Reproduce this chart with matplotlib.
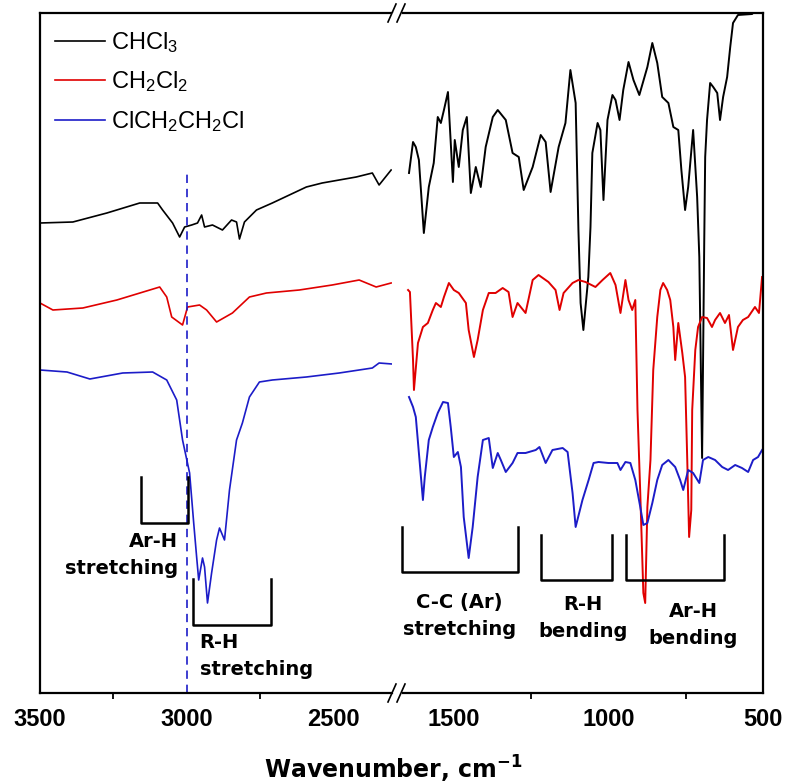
import numpy as np
import matplotlib
matplotlib.use("Agg")
import matplotlib.pyplot as plt
from matplotlib.lines import Line2D

plt.rcParams['mathtext.default'] = 'regular'

# FTIR spectra, arbitrary offset intensity
# --- high wavenumber window (3500-2300) ---
chcl3_wn_hi = [3500, 3388, 3272, 3160, 3099, 3082, 3048, 3024, 3007, 2983, 2963, 2949, 2939, 2912,
               2878, 2847, 2830, 2820, 2803, 2762, 2708, 2650, 2592, 2538, 2480, 2422, 2367, 2344, 2303]
chcl3_hi = [470, 471, 480, 490, 490, 483, 470, 456, 466, 468, 470, 478, 466, 468,
            463, 473, 471, 454, 471, 483, 490, 498, 506, 510, 513, 516, 520, 508, 523]

ch2cl2_wn_hi = [3500, 3456, 3354, 3238, 3092, 3068, 3051, 3014, 2997, 2956, 2932, 2898, 2844, 2786,
                2728, 2616, 2504, 2412, 2354, 2303]
ch2cl2_hi = [390, 383, 385, 393, 406, 396, 376, 368, 386, 388, 383, 371, 380, 396,
             400, 403, 408, 413, 406, 410]

dce_wn_hi = [3500, 3408, 3330, 3218, 3116, 3068, 3034, 3014, 2990, 2976, 2966, 2959, 2946, 2939,
             2929, 2915, 2898, 2888, 2871, 2854, 2830, 2810, 2786, 2752, 2708, 2592, 2480, 2367,
             2344, 2300]
dce_hi = [323, 321, 314, 320, 321, 313, 293, 253, 220, 170, 136, 113, 135, 126,
          90, 120, 153, 165, 153, 203, 253, 270, 296, 311, 313, 316, 320, 325, 330, 329]

# --- low wavenumber window (1700-500) ---
chcl3_wn_lo = [1645, 1632, 1623, 1613, 1597, 1581, 1565, 1552, 1542, 1532, 1519, 1503, 1497, 1484,
               1471, 1458, 1445, 1429, 1413, 1397, 1374, 1358, 1332, 1310, 1290, 1274, 1245, 1219,
               1203, 1187, 1161, 1139, 1123, 1106, 1097, 1090, 1081, 1065, 1058, 1052, 1035, 1026,
               1016, 1003, 987, 977, 964, 952, 935, 919, 900, 874, 858, 842, 826, 806, 790, 774,
               764, 752, 742, 726, 713, 706, 697, 690, 687, 681, 671, 661, 648, 639, 629, 616,
               606, 597, 581, 535, 516, 500]
chcl3_lo = [520, 551, 546, 533, 460, 506, 530, 576, 570, 583, 601, 511, 553, 526,
            563, 576, 500, 526, 506, 546, 576, 583, 573, 540, 536, 503, 526, 558,
            551, 501, 546, 570, 623, 590, 463, 390, 363, 416, 466, 540, 570, 563,
            493, 573, 598, 593, 573, 603, 631, 613, 598, 626, 650, 630, 596, 590, 566, 563,
            523, 483, 506, 563, 496, 436, 235, 453, 536, 573, 610, 606, 600, 573, 596, 616,
            646, 670, 678, 679, 688, 693]

ch2cl2_wn_lo = [1648, 1642, 1632, 1629, 1616, 1600, 1584, 1568, 1558, 1542, 1532, 1516, 1500, 1484,
                1461, 1452, 1435, 1423, 1406, 1387, 1365, 1342, 1323, 1310, 1294, 1268, 1245, 1226,
                1194, 1171, 1158, 1145, 1116, 1097, 1074, 1042, 1019, 994, 977, 961, 945, 935,
                923, 913, 906, 897, 887, 881, 874, 864, 855, 842, 832, 823, 810, 800, 790, 784,
                774, 761, 752, 745, 739, 732, 729, 719, 710, 697, 681, 665, 655, 639, 623, 610,
                597, 581, 565, 548, 526, 513, 503]
ch2cl2_lo = [403, 401, 333, 303, 350, 366, 370, 383, 390, 386, 396, 410, 403, 400,
             390, 363, 336, 353, 383, 400, 400, 405, 401, 376, 390, 380, 413, 418,
             411, 403, 383, 400, 410, 413, 411, 406, 413, 420, 408, 380, 413, 393,
             383, 393, 283, 200, 100, 90, 186, 233, 323, 376, 403, 410, 403, 393, 366, 333,
             370, 340, 316, 233, 156, 183, 283, 343, 366, 376, 375, 366, 373, 380, 370, 378,
             343, 366, 373, 376, 386, 380, 416]

dce_wn_lo = [1645, 1632, 1623, 1613, 1600, 1594, 1581, 1568, 1552, 1535, 1519, 1510, 1500, 1487,
             1477, 1468, 1452, 1439, 1423, 1406, 1387, 1374, 1358, 1348, 1332, 1310, 1294, 1268,
             1235, 1223, 1203, 1181, 1148, 1132, 1116, 1106, 1084, 1064, 1048, 1032, 1000, 971,
             961, 945, 929, 913, 897, 887, 874, 858, 842, 826, 806, 784, 768, 758, 742, 726,
             706, 694, 677, 655, 632, 613, 590, 568, 548, 532, 516, 503]
dce_lo = [296, 286, 276, 240, 193, 216, 253, 266, 280, 291, 290, 266, 236, 241,
          226, 176, 135, 166, 216, 253, 255, 225, 240, 233, 221, 230, 240, 240,
          243, 246, 230, 243, 245, 241, 200, 166, 193, 213, 230, 231, 230, 230,
          223, 231, 230, 213, 186, 168, 170, 190, 213, 228, 233, 226, 213, 203, 223, 220,
          210, 233, 236, 233, 226, 223, 228, 225, 221, 233, 236, 243]

series = [
    ('CHCl$_3$', 'black', chcl3_wn_hi, chcl3_hi, chcl3_wn_lo, chcl3_lo),
    ('CH$_2$Cl$_2$', '#e00000', ch2cl2_wn_hi, ch2cl2_hi, ch2cl2_wn_lo, ch2cl2_lo),
    ('ClCH$_2$CH$_2$Cl', '#1c1cc8', dce_wn_hi, dce_hi, dce_wn_lo, dce_lo),
]

# band assignments: label, wn start, wn end, bracket top, bracket bottom
bands_hi = [("Ar-H\nstretching", 3156, 2997, 216, 170),
            ("R-H\nstretching", 2980, 2711, 114, 68)]
bands_lo = [("C-C (Ar)\nstretching", 1668, 1294, 166, 121),
            ("R-H\nbending", 1219, 990, 158, 113),
            ("Ar-H\nbending", 942, 626, 158, 113)]

W, H = 785, 784
fig = plt.figure(figsize=(W / 100, H / 100), dpi=100)
bot = 1 - 693 / H
hgt = (693 - 13) / H
ax1 = fig.add_axes([40 / W, bot, 352 / W, hgt])
ax2 = fig.add_axes([392 / W, bot, 371 / W, hgt])

for name, col, wh, yh, wl, yl in series:
    ax1.plot(wh, yh, color=col, lw=1.2, label=name)
    ax2.plot(wl, yl, color=col, lw=1.4)

ax1.set_xlim(3500, 2300)
ax2.set_xlim(1700, 500)
for ax in (ax1, ax2):
    ax.set_ylim(0, 680)
    ax.set_yticks([])
    for s in ax.spines.values():
        s.set_linewidth(1.6)
    ax.tick_params(axis='x', which='major', length=0, pad=11)
    ax.tick_params(axis='x', which='minor', length=4, width=1.3, direction='out')

ax1.spines['right'].set_visible(False)
ax2.spines['left'].set_visible(False)
ax2.spines['top'].set_bounds(1665, 500)
ax2.spines['bottom'].set_bounds(1665, 500)

ax1.set_xticks([3500, 3000, 2500])
ax1.set_xticks([3250, 2750], minor=True)
ax2.set_xticks([1500, 1000, 500])
ax2.set_xticks([1250, 750], minor=True)
for ax in (ax1, ax2):
    for lab in ax.get_xticklabels():
        lab.set_fontfamily('Liberation Sans')
        lab.set_fontweight('bold')
        lab.set_fontsize(17)

# dashed marker at 3000 cm-1
ax1.plot([3000, 3000], [0, 521], color='#1c1cc8', lw=1.2, dashes=(5, 3.5))

def draw_bands(ax, bands):
    for lab, a, b, top, low in bands:
        ax.plot([a, a, b, b], [top, low, low, top], color='black', lw=1.8)

draw_bands(ax1, bands_hi)
draw_bands(ax2, bands_lo)

tkw = dict(fontfamily='DejaVu Sans', fontweight='bold', fontsize=14, linespacing=1.5)
ax1.text(3030, 138, bands_hi[0][0], ha='right', va='center', multialignment='right', **tkw)
ax1.text(2956, 37, bands_hi[1][0], ha='left', va='center', multialignment='left', **tkw)
ax2.text(1481, 77, bands_lo[0][0], ha='center', va='center', multialignment='center', **tkw)
ax2.text(1081, 75, bands_lo[1][0], ha='center', va='center', multialignment='center', **tkw)
ax2.text(726, 68, bands_lo[2][0], ha='center', va='center', multialignment='center', **tkw)

leg = ax1.legend(loc='upper left', bbox_to_anchor=(0.043, 0.975), frameon=False,
                 prop={'family': 'Liberation Sans', 'size': 17}, handlelength=2.1,
                 handletextpad=0.25, labelspacing=0.62, borderpad=0, borderaxespad=0)

# axis break marks
for yp in (13, 693):
    for xp in (392, 401):
        fig.add_artist(Line2D([(xp - 4) / W, (xp + 4) / W], [1 - (yp + 9) / H, 1 - (yp - 9) / H],
                              color='black', lw=1.2))

fig.text(393 / W, 1 - 769 / H, 'Wavenumber, cm$^{-1}$', ha='center', va='center',
         fontfamily='DejaVu Sans', fontweight='bold', fontsize=17)

fig.savefig('out.png', dpi=100)
